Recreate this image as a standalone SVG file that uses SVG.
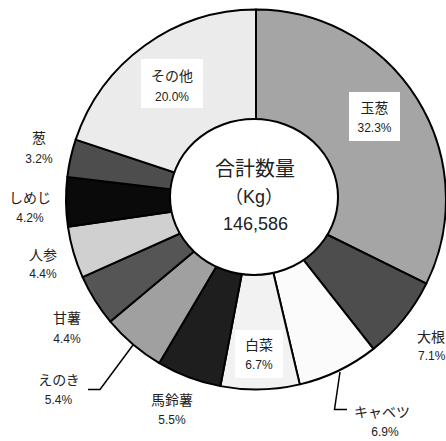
<svg xmlns="http://www.w3.org/2000/svg" width="446" height="441" viewBox="0 0 446 441">
<style>
.s{stroke:#000;stroke-width:2;stroke-linejoin:round}
.n{font-family:"Liberation Sans","Noto Sans CJK JP",sans-serif;font-size:14px;fill:#222;text-anchor:middle}
.p{font-family:"Liberation Sans","Noto Sans CJK JP",sans-serif;font-size:12px;fill:#222;text-anchor:middle}
.c{font-family:"Liberation Sans","Noto Sans CJK JP",sans-serif;fill:#222;text-anchor:middle}
.ld{fill:none;stroke:#000;stroke-width:1.5}
.bx{fill:#fff}
</style>
<rect width="446" height="441" fill="#fff"/>
<g id="slice-tamanegi"><path class="s" fill="#a5a5a5" d="M256 199.5 L256 9.5 A190 190 0 0 1 426.33 283.63 Z"/></g>
<g id="slice-daikon"><path class="s" fill="#4d4d4d" d="M256 199.5 L426.33 283.63 A190 190 0 0 1 373.41 348.88 Z"/></g>
<g id="slice-cabbage"><path class="s" fill="#fbfbfb" d="M256 199.5 L373.41 348.88 A190 190 0 0 1 299.77 384.39 Z"/></g>
<g id="slice-hakusai"><path class="s" fill="#f2f2f2" d="M256 199.5 L299.77 384.39 A190 190 0 0 1 220.4 386.14 Z"/></g>
<g id="slice-bareisho"><path class="s" fill="#1e1e1e" d="M256 199.5 L220.4 386.14 A190 190 0 0 1 159.28 363.04 Z"/></g>
<g id="slice-enoki"><path class="s" fill="#a0a0a0" d="M256 199.5 L159.28 363.04 A190 190 0 0 1 110.37 321.53 Z"/></g>
<g id="slice-kansho"><path class="s" fill="#555555" d="M256 199.5 L110.37 321.53 A190 190 0 0 1 82.59 277.14 Z"/></g>
<g id="slice-ninjin"><path class="s" fill="#d0d0d0" d="M256 199.5 L82.59 277.14 A190 190 0 0 1 67.98 226.86 Z"/></g>
<g id="slice-shimeji"><path class="s" fill="#0a0a0a" d="M256 199.5 L67.98 226.86 A190 190 0 0 1 67.35 176.87 Z"/></g>
<g id="slice-negi"><path class="s" fill="#4d4d4d" d="M256 199.5 L67.35 176.87 A190 190 0 0 1 75.67 139.65 Z"/></g>
<g id="slice-sonota"><path class="s" fill="#ebebeb" d="M256 199.5 L75.67 139.65 A190 190 0 0 1 256 9.5 Z"/></g>

<g id="center">
<ellipse cx="254" cy="197" rx="84" ry="78" fill="#fff" stroke="#000" stroke-width="2"/>
<text class="c" x="255" y="175.5" font-size="20">合計数量</text>
<text class="c" x="254" y="203" font-size="18">（Kg）</text>
<text class="c" x="255.5" y="229.5" font-size="18">146,586</text>
</g>

<g id="connectors">
<path class="ld" d="M340 372 L334.5 409.5 L347 409.5"/>
<path class="ld" d="M133 345 L100 389.5 L88 389.5"/>
</g>

<g id="label-sonota"><rect class="bx" x="141" y="59" width="62" height="49"/><text class="n" x="172" y="80.5">その他</text><text class="p" x="172" y="101">20.0%</text></g>
<g id="label-tamanegi"><rect class="bx" x="349" y="92" width="51" height="49"/><text class="n" x="374.5" y="112.5">玉葱</text><text class="p" x="374.5" y="132">32.3%</text></g>
<g id="label-hakusai"><rect class="bx" x="235" y="330" width="48" height="48"/><text class="n" x="259" y="350">白菜</text><text class="p" x="259" y="369">6.7%</text></g>
<g id="label-daikon"><text class="n" x="417" y="342" text-anchor="start" style="text-anchor:start">大根</text><text class="p" x="418" y="360" style="text-anchor:start">7.1%</text></g>
<g id="label-cabbage"><text class="n" x="382" y="417">キャベツ</text><text class="p" x="385" y="436">6.9%</text></g>
<g id="label-bareisho"><text class="n" x="172" y="405">馬鈴薯</text><text class="p" x="172" y="424">5.5%</text></g>
<g id="label-enoki"><text class="n" x="59" y="385">えのき</text><text class="p" x="58.5" y="404">5.4%</text></g>
<g id="label-kansho"><text class="n" x="67" y="323">甘薯</text><text class="p" x="67" y="343">4.4%</text></g>
<g id="label-ninjin"><text class="n" x="43" y="260">人参</text><text class="p" x="43" y="278">4.4%</text></g>
<g id="label-shimeji"><text class="n" x="30" y="203">しめじ</text><text class="p" x="30" y="222">4.2%</text></g>
<g id="label-negi"><text class="n" x="39" y="143">葱</text><text class="p" x="39" y="163">3.2%</text></g>
</svg>
